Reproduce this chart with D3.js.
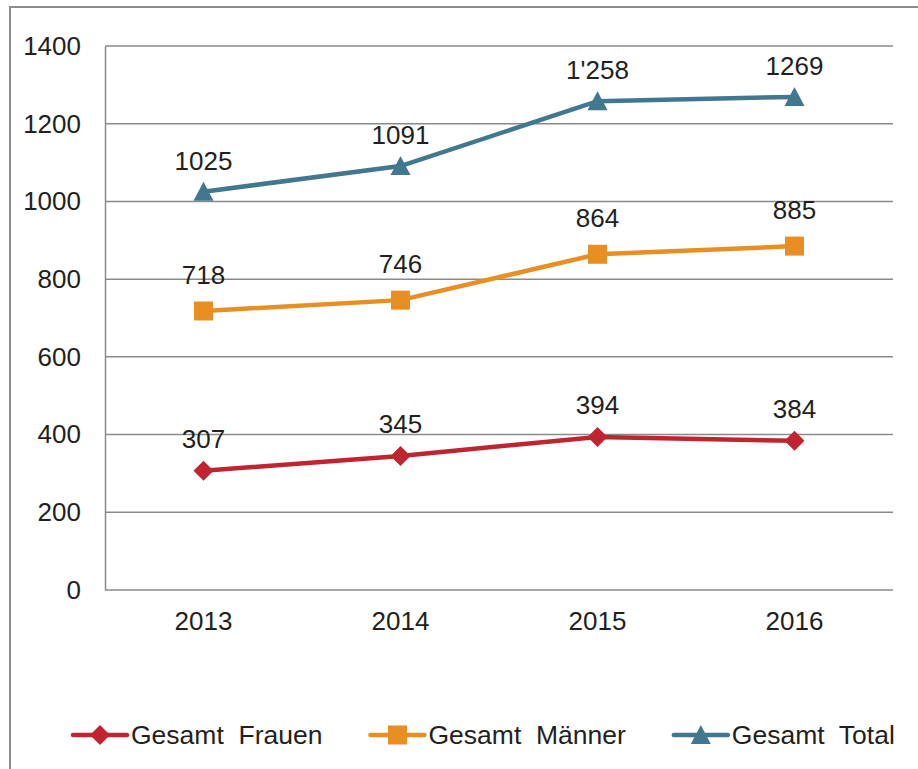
<!DOCTYPE html>
<html>
<head>
<meta charset="utf-8">
<script src="https://cdn.jsdelivr.net/npm/d3@7"></script>
<style>
  body { margin: 0; background: #fff; }
  svg { display: block; font-family: "Liberation Sans", Arial, sans-serif; }
</style>
</head>
<body>
<div id="chart"></div>
<script>
// data
var years = ["2013", "2014", "2015", "2016"];
var frauen = [307, 345, 394, 384];
var maenner = [718, 746, 864, 885];
var total = [1025, 1091, 1258, 1269];
var totalLabels = ["1025", "1091", "1'258", "1269"];
var yTicks = [0, 200, 400, 600, 800, 1000, 1200, 1400];
var seriesNames = ["Gesamt  Frauen", "Gesamt  Männer", "Gesamt  Total"];

var width = 918, height = 769;
var margin = {top: 46, right: 25, bottom: 179, left: 105};

var series = [
  {name: seriesNames[0], values: frauen, labels: frauen.map(String), color: "#bf2430", symbol: "diamond", offset: 23},
  {name: seriesNames[1], values: maenner, labels: maenner.map(String), color: "#e98e22", symbol: "square", offset: 27},
  {name: seriesNames[2], values: total, labels: totalLabels, color: "#41788f", symbol: "triangle", offset: 22}
];

var svg = d3.select("#chart").append("svg")
    .attr("width", width)
    .attr("height", height);

// outer frame (only top and left edges show)
svg.append("path")
    .attr("d", "M10,769V7H918")
    .style("fill", "none")
    .style("stroke", "#8c8c8c")
    .style("stroke-width", 2);

// Set the ranges
var x = d3.scaleBand()
    .domain(years)
    .range([margin.left, width - margin.right])
    .padding(0);
var y = d3.scaleLinear()
    .domain([0, 1400])
    .range([height - margin.bottom, margin.top]);

function cx(i) { return x(years[i]) + x.bandwidth() / 2; }

// gridlines
svg.selectAll(".hlines")
  .data(yTicks)
  .enter()
    .append("line")
    .attr("class", "hlines")
    .attr("x1", margin.left)
    .attr("x2", width - margin.right)
    .attr("y1", function(d) { return y(d); })
    .attr("y2", function(d) { return y(d); })
    .style("stroke", "#8a8a8a")
    .style("stroke-width", 1.5);

// axes
var yAxis = svg.append("g")
    .attr("transform", "translate(" + margin.left + ",0)")
    .call(d3.axisLeft(y).tickValues(yTicks).tickFormat(d3.format("d")).tickSize(0).tickPadding(24));
var xAxis = svg.append("g")
    .attr("transform", "translate(0," + y(0) + ")")
    .call(d3.axisBottom(x).tickSize(0).tickPadding(22));

svg.selectAll(".domain")
    .style("stroke", "#8a8a8a")
    .style("stroke-width", 1.5);
xAxis.select(".domain").remove();
svg.selectAll(".tick text")
    .style("font-size", "26px")
    .style("font-family", "'Liberation Sans', Arial, sans-serif")
    .style("fill", "#231f20");

var line = d3.line()
    .x(function(d, i) { return cx(i); })
    .y(function(d) { return y(d); });

// marker shapes, drawn around (0,0)
function markerPath(s) {
  if (s === "diamond") return "M0,-10L10,0L0,10L-10,0Z";
  if (s === "square") return "M-9.5,-9.5H9.5V9.5H-9.5Z";
  return "M0,-10L10,9H-10Z";
}

var g = svg.selectAll(".series")
  .data(series)
  .enter()
    .append("g")
    .attr("class", "series");

g.append("path")
    .attr("d", function(d) { return line(d.values); })
    .style("fill", "none")
    .style("stroke", function(d) { return d.color; })
    .style("stroke-width", 4.5);

g.each(function(s) {
  var sel = d3.select(this);
  sel.selectAll(".marker")
    .data(s.values)
    .enter()
      .append("path")
      .attr("class", "marker")
      .attr("transform", function(d, i) {
        return "translate(" + cx(i) + "," + y(d) + ")";
      })
      .attr("d", markerPath(s.symbol))
      .style("fill", s.color);

  // data labels
  sel.selectAll(".dlabel")
    .data(s.values)
    .enter()
      .append("text")
      .attr("class", "dlabel")
      .attr("x", function(d, i) { return cx(i); })
      .attr("y", function(d) { return y(d) - s.offset; })
      .style("text-anchor", "middle")
      .style("font-size", "26px")
      .style("fill", "#231f20")
      .text(function(d, i) { return s.labels[i]; });
});

// legend
var legY = 735;
var lx = 73;
series.forEach(function(s) {
  var lg = svg.append("g");
  lg.append("line")
      .attr("x1", lx).attr("x2", lx + 54)
      .attr("y1", legY).attr("y2", legY)
      .style("stroke", s.color)
      .style("stroke-width", 4.5)
      .style("stroke-linecap", "round");
  lg.append("path")
      .attr("transform", "translate(" + (lx + 27) + "," + legY + ")")
      .attr("d", markerPath(s.symbol))
      .style("fill", s.color);
  var t = lg.append("text")
      .attr("x", lx + 58)
      .attr("y", legY + 9)
      .attr("xml:space", "preserve")
      .style("white-space", "pre")
      .style("font-size", "26.5px")
      .style("fill", "#231f20")
      .text(s.name);
  lx = lx + 58 + t.node().getComputedTextLength() + 48;
});
</script>
</body>
</html>
